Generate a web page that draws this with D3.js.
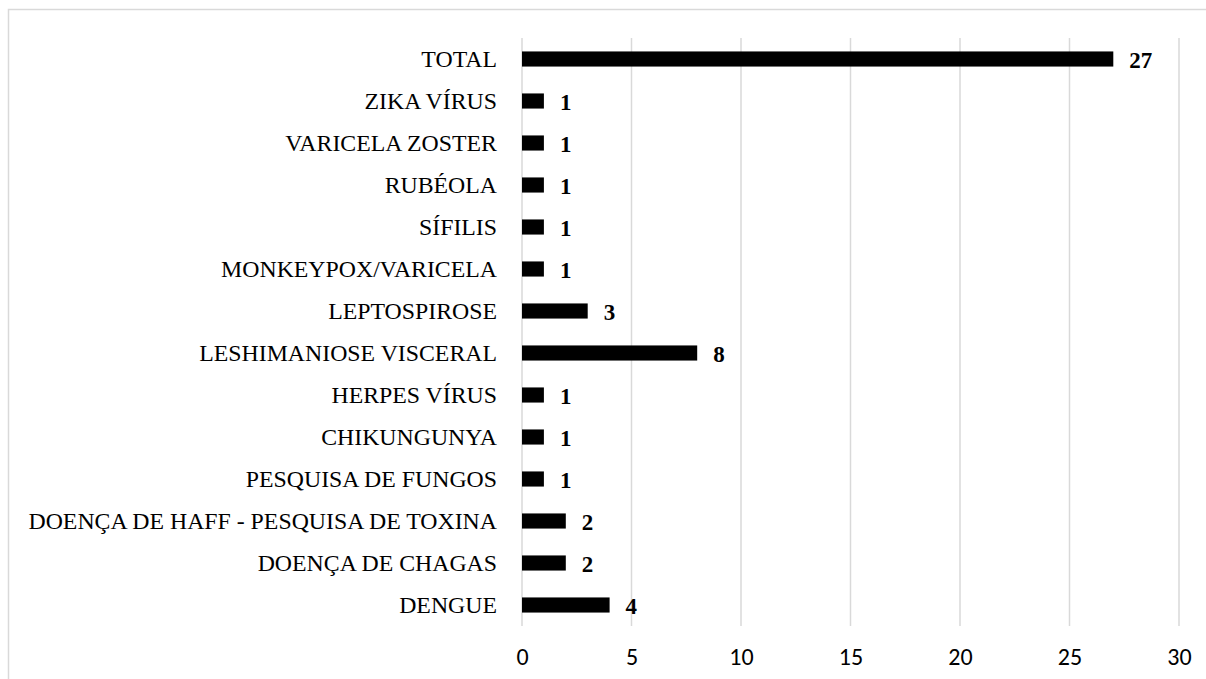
<!DOCTYPE html>
<html><head><meta charset="utf-8">
<script src="https://cdn.jsdelivr.net/npm/d3@7"></script>
<style>
body{margin:0;background:#fff;}
svg{display:block;}
</style>
</head><body>
<svg id="chart" width="1206" height="679"></svg>
<script>
const categories = ["TOTAL","ZIKA VÍRUS","VARICELA ZOSTER","RUBÉOLA","SÍFILIS","MONKEYPOX/VARICELA","LEPTOSPIROSE","LESHIMANIOSE VISCERAL","HERPES VÍRUS","CHIKUNGUNYA","PESQUISA DE FUNGOS","DOENÇA DE HAFF - PESQUISA DE TOXINA","DOENÇA DE CHAGAS","DENGUE"];
const values = [27,1,1,1,1,1,3,8,1,1,1,2,2,4];
const xTicks = [0,5,10,15,20,25,30];

const svg = d3.select("#chart");
const x = d3.scaleLinear().domain([0,30]).range([522,1179]);
const y = d3.scaleBand().domain(categories).range([38,626]).paddingInner(0.64).paddingOuter(0.32);

const serif = "'Liberation Serif', 'Times New Roman', serif";

// frame
svg.append("path").attr("d","M8.5,679 L8.5,9.5 L1206,9.5").attr("fill","none").attr("stroke","#d9d9d9").attr("stroke-width",1.5);

// gridlines
svg.append("g").selectAll("line").data(xTicks).join("line")
  .attr("x1",d=>x(d)).attr("x2",d=>x(d)).attr("y1",38).attr("y2",626)
  .attr("stroke","#d9d9d9").attr("stroke-width",1.5);

// x axis labels
const xAxis = d3.axisBottom(x).tickValues(xTicks).tickSize(0).tickPadding(0);
const gx = svg.append("g").attr("transform","translate(0,648)").call(xAxis);
gx.select(".domain").remove();
gx.selectAll("text")
  .style("font-family","Carlito, 'Liberation Sans', sans-serif").style("font-size","24px").attr("fill","#000");

// y axis labels
const yAxis = d3.axisLeft(y).tickSize(0).tickPadding(0);
const gy = svg.append("g").attr("transform","translate(497,0)").call(yAxis);
gy.select(".domain").remove();
gy.selectAll("text").style("font-family",serif).style("font-size","23.8px").attr("fill","#000").attr("dy","0.32em");

// bars
svg.append("g").selectAll("rect").data(values).join("rect")
  .attr("x",x(0)).attr("y",(d,i)=>y(categories[i]))
  .attr("width",d=>x(d)-x(0)).attr("height",y.bandwidth()).attr("fill","#000");

// value labels
svg.append("g").selectAll("text").data(values).join("text")
  .attr("x",d=>x(d)+16).attr("y",(d,i)=>y(categories[i])+y.bandwidth()/2+8.5)
  .style("font-family",serif).style("font-weight","bold").style("font-size","23px")
  .text(d=>d);
</script>
</body></html>
